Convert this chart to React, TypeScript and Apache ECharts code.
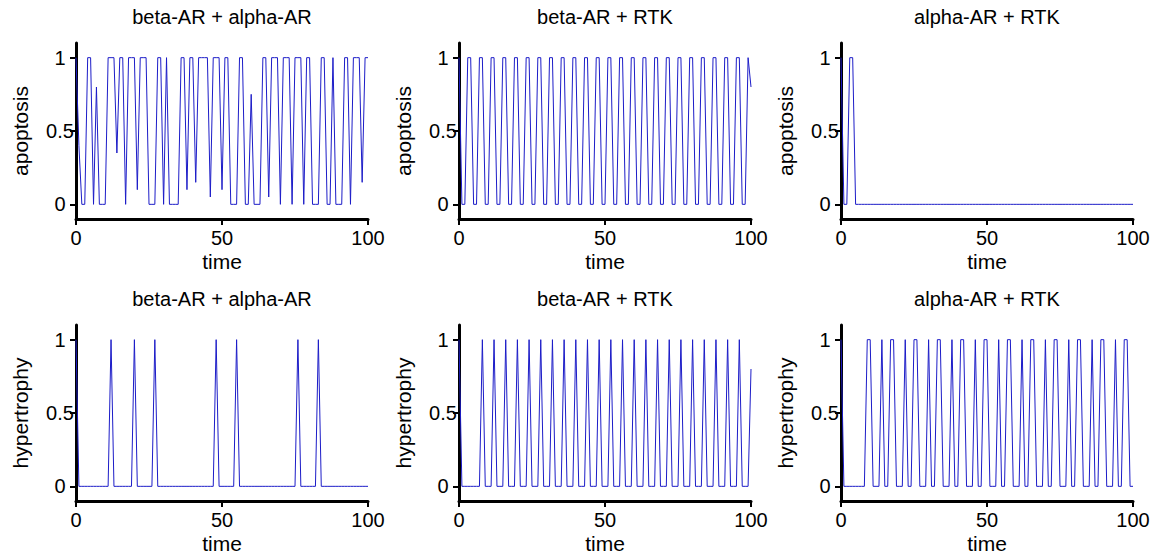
import React, { useEffect, useRef } from "react";
import * as echarts from "echarts";

const TIME = [
  0, 1, 2, 3, 4, 5, 6, 7, 8, 9, 10, 11, 12, 13, 14, 15, 16, 17, 18, 19, 20,
  21, 22, 23, 24, 25, 26, 27, 28, 29, 30, 31, 32, 33, 34, 35, 36, 37, 38, 39,
  40, 41, 42, 43, 44, 45, 46, 47, 48, 49, 50, 51, 52, 53, 54, 55, 56, 57, 58,
  59, 60, 61, 62, 63, 64, 65, 66, 67, 68, 69, 70, 71, 72, 73, 74, 75, 76, 77,
  78, 79, 80, 81, 82, 83, 84, 85, 86, 87, 88, 89, 90, 91, 92, 93, 94, 95, 96,
  97, 98, 99, 100,
];

const APOPTOSIS_BETA_ALPHA = [
  1, 0.4, 0, 0, 1, 1, 0, 0.8, 0, 0,
  0, 1, 1, 1, 0.35, 1, 1, 0, 1, 1,
  1, 0.1, 1, 1, 1, 0, 0, 0, 1, 1,
  0, 1, 0, 0, 0, 0, 1, 1, 0.1, 1,
  1, 0.15, 1, 1, 1, 1, 0.05, 1, 1, 1,
  0.1, 1, 1, 0, 0, 0, 1, 1, 0, 0,
  0.75, 0, 0, 0, 1, 1, 0.05, 1, 1, 1,
  0, 1, 1, 1, 0, 1, 1, 1, 0, 1,
  1, 0, 0, 0, 1, 1, 0, 0, 1, 0,
  0, 0, 1, 1, 0, 1, 1, 1, 0.15, 1,
  1,
];

const APOPTOSIS_BETA_RTK = [
  1, 0, 0, 1, 1, 0, 0, 1, 1, 0,
  0, 1, 1, 0, 0, 1, 1, 0, 0, 1,
  1, 0, 0, 1, 1, 0, 0, 1, 1, 0,
  0, 1, 1, 0, 0, 1, 1, 0, 0, 1,
  1, 0, 0, 1, 1, 0, 0, 1, 1, 0,
  0, 1, 1, 0, 0, 1, 1, 0, 0, 1,
  1, 0, 0, 1, 1, 0, 0, 1, 1, 0,
  0, 1, 1, 0, 0, 1, 1, 0, 0, 1,
  1, 0, 0, 1, 1, 0, 0, 1, 1, 0,
  0, 1, 1, 0, 0, 1, 1, 0, 0, 1,
  0.8,
];

const APOPTOSIS_ALPHA_RTK = [
  1, 0, 0, 1, 1, 0, 0, 0, 0, 0,
  0, 0, 0, 0, 0, 0, 0, 0, 0, 0,
  0, 0, 0, 0, 0, 0, 0, 0, 0, 0,
  0, 0, 0, 0, 0, 0, 0, 0, 0, 0,
  0, 0, 0, 0, 0, 0, 0, 0, 0, 0,
  0, 0, 0, 0, 0, 0, 0, 0, 0, 0,
  0, 0, 0, 0, 0, 0, 0, 0, 0, 0,
  0, 0, 0, 0, 0, 0, 0, 0, 0, 0,
  0, 0, 0, 0, 0, 0, 0, 0, 0, 0,
  0, 0, 0, 0, 0, 0, 0, 0, 0, 0,
  0,
];

const HYPERTROPHY_BETA_ALPHA = [
  1, 0, 0, 0, 0, 0, 0, 0, 0, 0,
  0, 0, 1, 0, 0, 0, 0, 0, 0, 0,
  1, 0, 0, 0, 0, 0, 0, 1, 0, 0,
  0, 0, 0, 0, 0, 0, 0, 0, 0, 0,
  0, 0, 0, 0, 0, 0, 0, 0, 1, 0,
  0, 0, 0, 0, 0, 1, 0, 0, 0, 0,
  0, 0, 0, 0, 0, 0, 0, 0, 0, 0,
  0, 0, 0, 0, 0, 0, 1, 0, 0, 0,
  0, 0, 0, 1, 0, 0, 0, 0, 0, 0,
  0, 0, 0, 0, 0, 0, 0, 0, 0, 0,
  0,
];

const HYPERTROPHY_BETA_RTK = [
  1, 0, 0, 0, 0, 0, 0, 0, 1, 0,
  0, 0, 1, 0, 0, 0, 1, 0, 0, 0,
  1, 0, 0, 0, 1, 0, 0, 0, 1, 0,
  0, 0, 1, 0, 0, 0, 1, 0, 0, 0,
  1, 0, 0, 0, 1, 0, 0, 0, 1, 0,
  0, 0, 1, 0, 0, 0, 1, 0, 0, 0,
  1, 0, 0, 0, 1, 0, 0, 0, 1, 0,
  0, 0, 1, 0, 0, 0, 1, 0, 0, 0,
  1, 0, 0, 0, 1, 0, 0, 0, 1, 0,
  0, 0, 1, 0, 0, 0, 1, 0, 0, 0,
  0.8,
];

const HYPERTROPHY_ALPHA_RTK = [
  1, 0, 0, 0, 0, 0, 0, 0, 0, 1,
  1, 0, 0, 0, 1, 0, 0, 1, 1, 0,
  0, 0, 1, 0, 0, 1, 1, 0, 0, 0,
  1, 0, 0, 1, 1, 0, 0, 0, 1, 0,
  0, 1, 1, 0, 0, 0, 1, 0, 0, 1,
  1, 0, 0, 0, 1, 0, 0, 1, 1, 0,
  0, 0, 1, 0, 0, 1, 1, 0, 0, 0,
  1, 0, 0, 1, 1, 0, 0, 0, 1, 0,
  0, 1, 1, 0, 0, 0, 1, 0, 0, 1,
  1, 0, 0, 0, 1, 0, 0, 1, 1, 0,
  0,
];

const TITLES = ["beta-AR + alpha-AR", "beta-AR + RTK", "alpha-AR + RTK"];
const Y_NAMES = ["apoptosis", "hypertrophy"];
const X_NAME = "time";
const X_TICKS = [0, 50, 100];
const Y_TICKS = [0, 0.5, 1];

const PANELS = [
  { row: 0, col: 0, values: APOPTOSIS_BETA_ALPHA },
  { row: 0, col: 1, values: APOPTOSIS_BETA_RTK },
  { row: 0, col: 2, values: APOPTOSIS_ALPHA_RTK },
  { row: 1, col: 0, values: HYPERTROPHY_BETA_ALPHA },
  { row: 1, col: 1, values: HYPERTROPHY_BETA_RTK },
  { row: 1, col: 2, values: HYPERTROPHY_ALPHA_RTK },
];

const COL_LEFT = [76, 459, 841];
const ROW_TOP = [43, 325];
const GRID_W = 292;
const GRID_H = 176;
const FONT = "Liberation Sans, Arial, sans-serif";
const LINE_COLOR = "#1c1cc8";

export default function App() {
  const ref = useRef<HTMLDivElement>(null);

  useEffect(() => {
    if (!ref.current) return;
    const chart = echarts.init(ref.current, undefined, { renderer: "svg" });

    const grids: any[] = [];
    const xAxes: any[] = [];
    const yAxes: any[] = [];
    const series: any[] = [];
    const graphics: any[] = [];

    PANELS.forEach((p, i) => {
      const left = COL_LEFT[p.col];
      const top = ROW_TOP[p.row];
      grids.push({ left, top, width: GRID_W, height: GRID_H, containLabel: false });
      xAxes.push({
        type: "value",
        gridIndex: i,
        min: 0,
        max: 100,
        interval: 50,
        name: X_NAME,
        nameLocation: "middle",
        nameGap: 32,
        nameTextStyle: { fontFamily: FONT, fontSize: 21, color: "#000" },
        axisLine: { onZero: false, lineStyle: { color: "#000", width: 3 } },
        axisTick: { show: true, length: 6, lineStyle: { color: "#000", width: 2 } },
        axisLabel: {
          margin: 9,
          fontFamily: FONT,
          fontSize: 20,
          color: "#000",
          customValues: X_TICKS,
        },
        splitLine: { show: false },
      });
      yAxes.push({
        type: "value",
        gridIndex: i,
        min: -0.1,
        max: 1.1,
        name: Y_NAMES[p.row],
        nameLocation: "middle",
        nameGap: 45,
        nameTextStyle: { fontFamily: FONT, fontSize: 21, color: "#000" },
        axisLine: { show: true, onZero: false, lineStyle: { color: "#000", width: 3 } },
        axisTick: {
          show: true,
          length: 6,
          lineStyle: { color: "#000", width: 2 },
          customValues: Y_TICKS,
        },
        axisLabel: {
          margin: 16,
          align: "center",
          fontFamily: FONT,
          fontSize: 20,
          color: "#000",
          customValues: Y_TICKS,
          formatter: (v: number) => String(v),
        },
        splitLine: { show: false },
      });
      series.push({
        type: "line",
        xAxisIndex: i,
        yAxisIndex: i,
        data: TIME.map((t, k) => [t, p.values[k]]),
        showSymbol: false,
        symbol: "none",
        lineStyle: { color: LINE_COLOR, width: 1 },
        itemStyle: { color: LINE_COLOR },
        clip: false,
      });
      graphics.push({
        type: "text",
        x: left + GRID_W / 2,
        y: top - 26,
        style: {
          text: TITLES[p.col],
          textAlign: "center",
          textVerticalAlign: "middle",
          fontFamily: FONT,
          fontSize: 20,
          fill: "#000",
        },
      });
    });

    chart.setOption({
      animation: false,
      backgroundColor: "#fff",
      grid: grids,
      xAxis: xAxes,
      yAxis: yAxes,
      series,
      graphic: graphics,
    });

    return () => chart.dispose();
  }, []);

  return (
    <div
      ref={ref}
      style={{ position: "fixed", left: 0, top: 0, width: 1156, height: 559 }}
    />
  );
}
